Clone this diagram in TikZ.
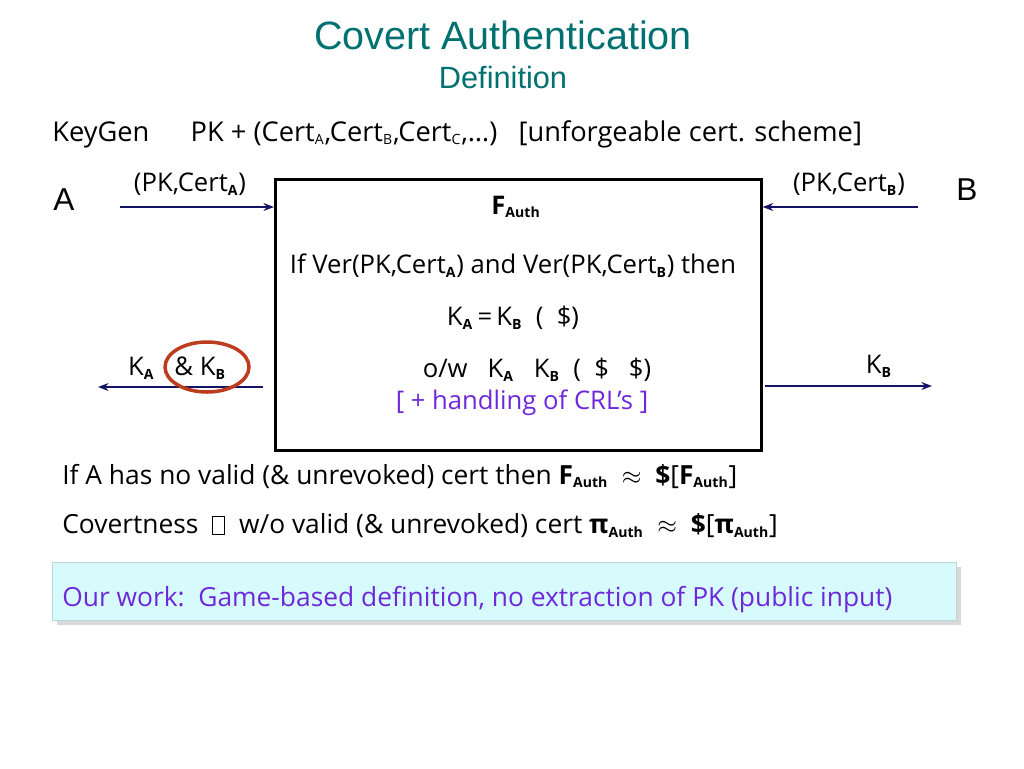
\documentclass[tikz,border=0pt]{standalone}
\usepackage{fontspec}
\setmainfont{Open Sans}
\newfontfamily\titlefont{Liberation Sans}
\usepackage{tikz}
\usetikzlibrary{arrows.meta,shadows}
\definecolor{titleteal}{RGB}{0,112,112}
\definecolor{navyline}{RGB}{20,20,100}
\definecolor{workpurple}{RGB}{110,40,220}
\definecolor{ringred}{RGB}{190,60,30}
\definecolor{calloutfill}{RGB}{215,250,252}
\newcommand{\nog}{{\setlength{\fboxsep}{0pt}\setlength{\fboxrule}{0.6pt}\framebox[0.5em][c]{\rule{0pt}{0.65em}}}}
\newcommand{\sbb}[1]{$_{\mbox{\footnotesize\bfseries #1}}$}
\newcommand{\sbr}[1]{$_{\mbox{\footnotesize #1}}$}
\begin{document}
\begin{tikzpicture}[x=0.02cm,y=-0.02cm,
  txt/.style={inner sep=0pt, anchor=west, font=\fontsize{15}{18}\selectfont},
  boxtxt/.style={inner sep=0pt, font=\fontsize{14.6}{17}\selectfont},
  msg/.style={-{Stealth[length=6pt]}, line width=1.6pt, color=navyline}]

\useasboundingbox (0,0) rectangle (1024,768);

% title
\node[inner sep=0pt, text=titleteal, font=\titlefont\fontsize{22.5}{25}\selectfont] (title) at (503,35) {Covert Authentication};
\node[inner sep=0pt, text=titleteal, font=\titlefont\fontsize{17.5}{20}\selectfont] (subtitle) at (503,78) {Definition};

% key generation line
\node[txt, font=\fontsize{15.5}{18}\selectfont] (keygen) at (52,134) {KeyGen\quad\ \ PK + (Cert\sbr{A},Cert\sbr{B},Cert\sbr{C},…)\ \ \ [unforgeable cert. scheme]};

% parties
\node[inner sep=0pt, font=\titlefont\fontsize{18}{20}\selectfont] (partyA) at (64,200) {A};
\node[inner sep=0pt, font=\titlefont\fontsize{18}{20}\selectfont] (partyB) at (967,190) {B};

% functionality box
\node[draw, line width=1.5pt, minimum width=486*0.02cm, minimum height=271*0.02cm, anchor=north west] (fauth) at (274,178) {};
\node[boxtxt] (fname) at (516,207) {\textbf{F}\sbb{Auth}};
\node[boxtxt] (fcond) at (513,266) {If Ver(PK,Cert\sbb{A}) and Ver(PK,Cert\sbb{B}) then};
\node[boxtxt] (fequal) at (513,318) {K\sbb{A}\,=\,K\sbb{B}\ \ (\ \ \$)};
\node[boxtxt] (fother) at (537,370) {o/w\ \ \ K\sbb{A}\ \ \ K\sbb{B}\ \ (\ \ \$\ \ \ \$)};
\node[boxtxt, text=workpurple] (fcrl) at (522,403) {[ + handling of CRL’s ]};

% input arrows
\coordinate (inA) at (120,207);
\coordinate (inB) at (918,207);
\node[boxtxt] (certA) at (190,184) {(PK,Cert\sbb{A})};
\node[boxtxt] (certB) at (849,184) {(PK,Cert\sbb{B})};
\draw[msg] (inA) -- (fauth.west |- inA);
\draw[msg] (inB) -- (fauth.east |- inB);

% output arrows
\coordinate (outA) at (98,387);
\coordinate (outB) at (932,386);
\coordinate (lstart) at (263,387);
\coordinate (rstart) at (765,386);
\node[boxtxt] (keysA) at (177,368) {K\sbb{A}\ \ \ \& K\sbb{B}};
\node[boxtxt] (keyB) at (879,366) {K\sbb{B}};
\draw[msg] (lstart) -- (outA);
\draw[msg] (rstart) -- (outB);
\draw[ringred, line width=2pt] (207,367) ellipse (42 and 25);

% statements
\node[txt] (nocert) at (62,476) {If A has no valid (\& unrevoked) cert then \textbf{F}\sbb{Auth}\ \ $\approx$\ \ \textbf{\$}[\textbf{F}\sbb{Auth}]};
\node[txt] (covert) at (62,526) {Covertness\ \ \nog\ \ w/o valid (\& unrevoked) cert \textbf{π}\sbb{Auth}\ \ $\approx$\ \ \textbf{\$}[\textbf{π}\sbb{Auth}]};

% our work callout
\node[draw=calloutfill!70!gray, fill=calloutfill, drop shadow={opacity=0.3}, minimum width=904*0.02cm, minimum height=58*0.02cm, anchor=north west] (callout) at (52,562) {};
\node[txt, text=workpurple] (ourwork) at (62,600) {Our work:\ \ Game-based definition, no extraction of PK (public input)};
\end{tikzpicture}
\end{document}
